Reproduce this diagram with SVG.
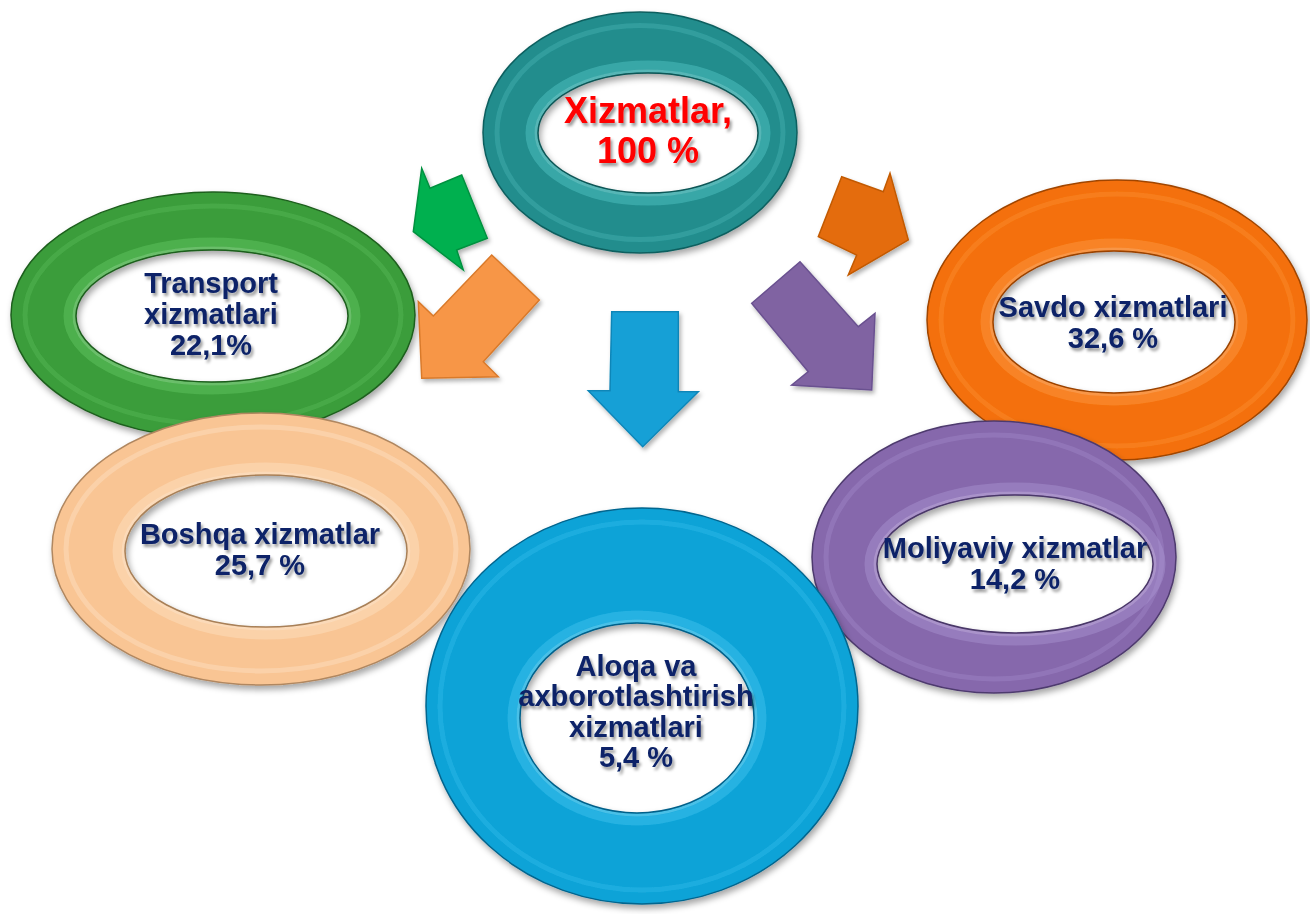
<svg xmlns="http://www.w3.org/2000/svg" width="1310" height="914" viewBox="0 0 1310 914">
<defs>
  <filter id="shadow" x="-10%" y="-10%" width="125%" height="125%">
    <feDropShadow dx="2" dy="4" stdDeviation="3" flood-color="#000" flood-opacity="0.35"/>
  </filter>
  <filter id="tshadow" x="-10%" y="-20%" width="125%" height="150%">
    <feDropShadow dx="2" dy="3" stdDeviation="1.6" flood-color="#000" flood-opacity="0.4"/>
  </filter>
  <filter id="ashadow" x="-15%" y="-15%" width="135%" height="135%">
    <feDropShadow dx="2" dy="3" stdDeviation="2" flood-color="#000" flood-opacity="0.3"/>
  </filter>
</defs>
<style>
  .lbl { font-family: "Liberation Sans", Arial, sans-serif; font-weight: bold; text-anchor: middle; }
  .navy { fill: #0b2467; font-size: 29px; }
  .red { fill: #ff0000; font-size: 36px; }
  .lip { fill: none; stroke-width: 5; opacity: 0.3; }
  .rim { fill: none; stroke-width: 9; opacity: 0.4; }
  .rim2 { fill: none; stroke-width: 3; opacity: 0.4; }
  .edge { fill: none; stroke-width: 1.5; }
  .arrow { stroke-width: 1.5; stroke-linejoin: miter; }
</style>
<rect width="1310" height="914" fill="#ffffff"/>

<!-- Top teal ring -->
<g id="node-xizmatlar">
  <g filter="url(#shadow)">
    <path fill="#218d8d" fill-rule="evenodd" d="M483 132.5a157 120.5 0 1 0 314 0a157 120.5 0 1 0 -314 0Z M538 133a110 60 0 1 0 220 0a110 60 0 1 0 -220 0Z"/>
    <ellipse class="lip" cx="640" cy="132.5" rx="143" ry="107" stroke="#55c4c4"/>
    <ellipse class="rim" cx="648" cy="133" rx="118" ry="68" stroke="#5fd0d0"/>
    <ellipse class="rim2" cx="648" cy="133" rx="112" ry="62" stroke="#a8f4f4"/>
    <ellipse class="edge" cx="648" cy="133" rx="110" ry="60" stroke="#0d5656"/>
    <ellipse class="edge" cx="640" cy="132.5" rx="157" ry="120.5" stroke="#0f5f5f"/>
  </g>
  <g filter="url(#tshadow)">
    <text class="lbl red" x="648" y="123">Xizmatlar,</text>
    <text class="lbl red" x="648" y="163">100 %</text>
  </g>
</g>

<!-- Green ring -->
<g id="node-transport">
  <g filter="url(#shadow)">
    <path fill="#3a9d3a" fill-rule="evenodd" d="M11 315a202 123 0 1 0 404 0a202 123 0 1 0 -404 0Z M76 316a136 66 0 1 0 272 0a136 66 0 1 0 -272 0Z"/>
    <ellipse class="lip" cx="213" cy="315" rx="188" ry="109" stroke="#66c866"/>
    <ellipse class="rim" cx="212" cy="316" rx="144" ry="74" stroke="#6ccd6c"/>
    <ellipse class="rim2" cx="212" cy="316" rx="138" ry="68" stroke="#b5f0b5"/>
    <ellipse class="edge" cx="212" cy="316" rx="136" ry="66" stroke="#1e5e1e"/>
    <ellipse class="edge" cx="213" cy="315" rx="202" ry="123" stroke="#1f5f1f"/>
  </g>
  <g filter="url(#tshadow)">
    <text class="lbl navy" x="211" y="293">Transport</text>
    <text class="lbl navy" x="211" y="324">xizmatlari</text>
    <text class="lbl navy" x="211" y="355">22,1%</text>
  </g>
</g>

<!-- Orange ring -->
<g id="node-savdo">
  <g filter="url(#shadow)">
    <path fill="#f4700a" fill-rule="evenodd" d="M927 320a190 140 0 1 0 380 0a190 140 0 1 0 -380 0Z M993 322a121 71 0 1 0 242 0a121 71 0 1 0 -242 0Z"/>
    <ellipse class="lip" cx="1117" cy="320" rx="176" ry="126" stroke="#ff9c45"/>
    <ellipse class="rim" cx="1114" cy="322" rx="129" ry="79" stroke="#ffa050"/>
    <ellipse class="rim2" cx="1114" cy="322" rx="123" ry="73" stroke="#ffd0a0"/>
    <ellipse class="edge" cx="1114" cy="322" rx="121" ry="71" stroke="#9a4300"/>
    <ellipse class="edge" cx="1117" cy="320" rx="190" ry="140" stroke="#a04500"/>
  </g>
  <g filter="url(#tshadow)">
    <text class="lbl navy" x="1113" y="317">Savdo xizmatlari</text>
    <text class="lbl navy" x="1113" y="348">32,6 %</text>
  </g>
</g>

<!-- Peach ring -->
<g id="node-boshqa">
  <g filter="url(#shadow)">
    <path fill="#f9c594" fill-rule="evenodd" d="M52 549a209 136 0 1 0 418 0a209 136 0 1 0 -418 0Z M125 551a141 76 0 1 0 282 0a141 76 0 1 0 -282 0Z"/>
    <ellipse class="lip" cx="261" cy="549" rx="195" ry="122" stroke="#fff0dc"/>
    <ellipse class="rim" cx="266" cy="551" rx="149" ry="84" stroke="#ffe6c8"/>
    <ellipse class="rim2" cx="266" cy="551" rx="143" ry="78" stroke="#fffaf0"/>
    <ellipse class="edge" cx="266" cy="551" rx="141" ry="76" stroke="#a88058"/>
    <ellipse class="edge" cx="261" cy="549" rx="209" ry="136" stroke="#b08760"/>
  </g>
  <g filter="url(#tshadow)">
    <text class="lbl navy" x="260" y="544">Boshqa xizmatlar</text>
    <text class="lbl navy" x="260" y="575">25,7 %</text>
  </g>
</g>

<!-- Purple ring -->
<g id="node-moliyaviy">
  <g filter="url(#shadow)">
    <path fill="#8668ac" fill-rule="evenodd" d="M812 557a182 136 0 1 0 364 0a182 136 0 1 0 -364 0Z M877 564a138 69 0 1 0 276 0a138 69 0 1 0 -276 0Z"/>
    <ellipse class="lip" cx="994" cy="557" rx="168" ry="122" stroke="#ad94d4"/>
    <ellipse class="rim" cx="1015" cy="564" rx="146" ry="77" stroke="#b09ad8"/>
    <ellipse class="rim2" cx="1015" cy="564" rx="140" ry="71" stroke="#e0d4f8"/>
    <ellipse class="edge" cx="1015" cy="564" rx="138" ry="69" stroke="#4a3768"/>
    <ellipse class="edge" cx="994" cy="557" rx="182" ry="136" stroke="#4e3a6e"/>
  </g>
  <g filter="url(#tshadow)">
    <text class="lbl navy" x="1015" y="558">Moliyaviy xizmatlar</text>
    <text class="lbl navy" x="1015" y="589">14,2 %</text>
  </g>
</g>

<!-- Blue ring -->
<g id="node-aloqa">
  <g filter="url(#shadow)">
    <path fill="#0ca3d7" fill-rule="evenodd" d="M426 706a216 198 0 1 0 432 0a216 198 0 1 0 -432 0Z M520 718a117 95 0 1 0 234 0a117 95 0 1 0 -234 0Z"/>
    <ellipse class="lip" cx="642" cy="706" rx="202" ry="184" stroke="#45c8f2"/>
    <ellipse class="rim" cx="637" cy="718" rx="125" ry="103" stroke="#4cc8f2"/>
    <ellipse class="rim2" cx="637" cy="718" rx="119" ry="97" stroke="#a8ecff"/>
    <ellipse class="edge" cx="637" cy="718" rx="117" ry="95" stroke="#05618a"/>
    <ellipse class="edge" cx="642" cy="706" rx="216" ry="198" stroke="#06668f"/>
  </g>
  <g filter="url(#tshadow)">
    <text class="lbl navy" x="636" y="676">Aloqa va</text>
    <text class="lbl navy" x="636" y="706">axborotlashtirish</text>
    <text class="lbl navy" x="636" y="737">xizmatlari</text>
    <text class="lbl navy" x="636" y="767">5,4 %</text>
  </g>
</g>

<!-- Connectors (arrows) -->
<g id="connectors" filter="url(#ashadow)">
  <polygon id="arrow-green" class="arrow" fill="#00b050" stroke="#00913f" points="421.7,168.3 430,188.3 461.7,175 487.3,238.3 456.7,250 463.3,270 413.3,231.7"/>
  <polygon id="arrow-lightorange" class="arrow" fill="#f79646" stroke="#d97a2c" points="491.7,255 539.3,300 483.3,361.7 498.3,376.7 421.7,378.3 418.3,301.7 433.3,316"/>
  <polygon id="arrow-blue" class="arrow" fill="#17a0d6" stroke="#0f86b8" points="611.7,311.7 678.3,311.7 678.3,391.7 698.3,391.7 642.7,446.7 588.3,390.7 610,390.7"/>
  <polygon id="arrow-orange" class="arrow" fill="#e46c0a" stroke="#c25a06" points="841.7,176.7 883.3,191.7 890,173.3 908.3,240 848.3,275 856.7,255 818.3,236.7"/>
  <polygon id="arrow-purple" class="arrow" fill="#8064a2" stroke="#6a5190" points="800,261.7 858.3,326.7 875,313.3 871.7,390 791.7,385 808.3,371.7 751.7,303.3"/>
</g>
</svg>
